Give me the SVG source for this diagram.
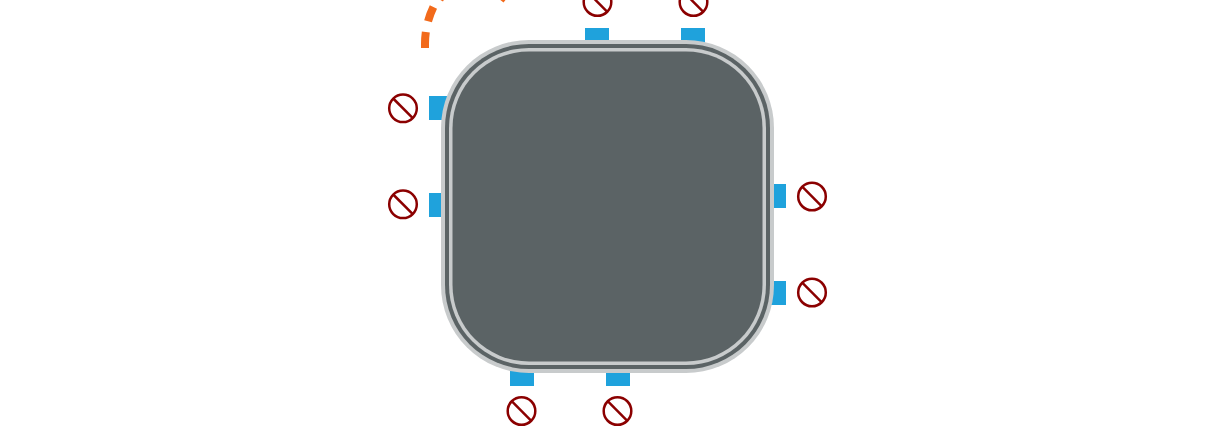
<svg xmlns="http://www.w3.org/2000/svg" width="1206" height="442" viewBox="0 0 1206 442">
<defs>
<style>
.port{fill:#1fa2dc}
.shell{fill:#c8cbcc}
.band{fill:#5b6365}
.no{fill:none;stroke:#8b0000;stroke-width:2.5}
.wire{fill:none;stroke:#f26a1b;stroke-width:8;stroke-dasharray:16 11}
</style>
<g id="no-sign"><circle r="13.800" class="no"/><line x1="-9.800" y1="-9.800" x2="9.800" y2="9.800" class="no"/></g>
</defs>
<rect width="1206" height="442" fill="#ffffff"/>
<g id="connectors">
<path class="wire" d="M425 48V44A85 85 0 0 1 433.400 7M439.500 -0.500L447 -14M496 -8.600L506 -0.600"/>
</g>
<g id="ports">
<rect class="port" x="429" y="96" width="30" height="24"/>
<rect class="port" x="429" y="193" width="30" height="24"/>
<rect class="port" x="585" y="28" width="24" height="30"/>
<rect class="port" x="681" y="28" width="24" height="30"/>
<rect class="port" x="756" y="184" width="30" height="24"/>
<rect class="port" x="756" y="281" width="30" height="24"/>
<rect class="port" x="510" y="356" width="24" height="30"/>
<rect class="port" x="606" y="356" width="24" height="30"/>
</g>
<g id="device">
<rect class="shell" x="441" y="40" width="333" height="333" rx="88" ry="88"/>
<rect class="band" x="445" y="44" width="325" height="325" rx="84" ry="84"/>
<rect class="shell" x="449" y="48" width="317" height="317" rx="80" ry="80"/>
<rect class="band" x="452.500" y="51.500" width="310" height="310" rx="76.500" ry="76.500"/>
</g>
<g id="blocked-left-1"><use href="#no-sign" x="403" y="108.300"/></g>
<g id="blocked-left-2"><use href="#no-sign" x="403" y="204.300"/></g>
<g id="blocked-top-1"><use href="#no-sign" x="597.500" y="2"/></g>
<g id="blocked-top-2"><use href="#no-sign" x="693.500" y="2"/></g>
<g id="blocked-right-1"><use href="#no-sign" x="812" y="196.500"/></g>
<g id="blocked-right-2"><use href="#no-sign" x="812" y="292.500"/></g>
<g id="blocked-bottom-1"><use href="#no-sign" x="521.500" y="411"/></g>
<g id="blocked-bottom-2"><use href="#no-sign" x="617.500" y="411"/></g>
</svg>
